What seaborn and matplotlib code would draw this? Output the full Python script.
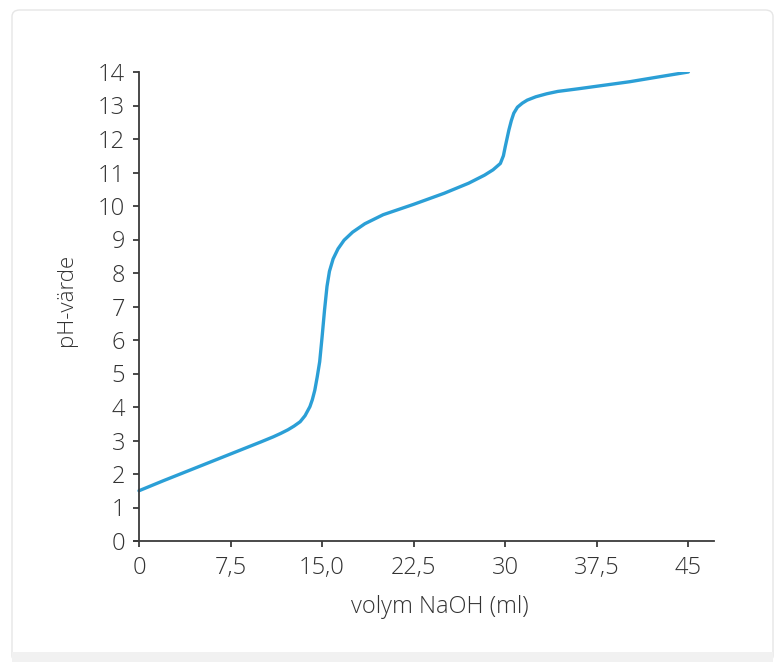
import matplotlib
matplotlib.use("Agg")
import matplotlib.pyplot as plt
import seaborn as sns
import pandas as pd
from matplotlib.patches import FancyBboxPatch

# titration curve
volume_ml = [0, 2, 4, 6, 8, 10, 11, 11.6, 12.2, 12.7, 13.2, 13.6, 14.0, 14.2, 14.4,
             14.6, 14.8, 15.0, 15.2, 15.4, 15.6, 15.9, 16.3, 16.8, 17.5, 18.5, 20,
             22.5, 25, 27, 28.3, 29.0, 29.6, 29.85, 30.0, 30.15, 30.3, 30.5, 30.7,
             31.0, 31.4, 31.8, 32.5, 33.4, 34.3, 36, 38, 40.2, 42.5, 45]
ph_value = [1.5, 1.8, 2.09, 2.38, 2.67, 2.96, 3.11, 3.21, 3.32, 3.43, 3.56, 3.74,
            4.01, 4.22, 4.5, 4.9, 5.35, 6.1, 6.9, 7.6, 8.05, 8.42, 8.72, 8.98, 9.22,
            9.47, 9.74, 10.05, 10.38, 10.68, 10.92, 11.08, 11.27, 11.5, 11.77, 12.02,
            12.27, 12.55, 12.77, 12.95, 13.07, 13.16, 13.26, 13.35, 13.42, 13.5,
            13.6, 13.71, 13.85, 14.0]

x_ticks = [0, 7.5, 15, 22.5, 30, 37.5, 45]
x_tick_labels = ["0", "7,5", "15,0", "22,5", "30", "37,5", "45"]
y_ticks = list(range(0, 15))

sns.set_theme(style="ticks")
plt.rcParams["font.family"] = ["Open Sans", "DejaVu Sans"]

text_color = "#333333"
line_color = "#2b9fd6"

fig = plt.figure(figsize=(7.8, 6.62), dpi=100, facecolor="white")

# card background with grey strip at the bottom
card = FancyBboxPatch((12 / 780, 0), 761 / 780, 652 / 662,
                      boxstyle="round,pad=0,rounding_size=0.01",
                      transform=fig.transFigure, facecolor="white",
                      edgecolor="#e6e6e6", linewidth=1.0, zorder=-5)
fig.patches.append(card)
strip = FancyBboxPatch((12 / 780, 0), 761 / 780, 10 / 662,
                       boxstyle="square,pad=0", transform=fig.transFigure,
                       facecolor="#f1f1f1", edgecolor="none", zorder=-4)
fig.patches.append(strip)

ax = fig.add_axes([133.5 / 780, (662 - 541) / 662, (714 - 133.5) / 780, 469 / 662])
ax.set_facecolor("none")

df = pd.DataFrame({"volym": volume_ml, "ph": ph_value})
sns.lineplot(data=df, x="volym", y="ph", ax=ax, color=line_color, linewidth=2.4,
             sort=False, estimator=None, solid_joinstyle="round",
             solid_capstyle="round")

ax.set_xlim(-0.45, 47.1)
ax.set_ylim(0, 14)
ax.spines["left"].set_position(("data", 0))
ax.spines["top"].set_visible(False)
ax.spines["right"].set_visible(False)
for side in ("left", "bottom"):
    ax.spines[side].set_color("#3a3a3a")
    ax.spines[side].set_linewidth(1.3)

ax.set_xticks(x_ticks)
ax.set_xticklabels(x_tick_labels)
ax.set_yticks(y_ticks)
ax.tick_params(axis="both", direction="out", length=4, width=1.3, color="#3a3a3a",
               labelsize=17, labelcolor=text_color)
ax.tick_params(axis="x", pad=7)
ax.tick_params(axis="y", pad=6)
for lbl in ax.get_xticklabels() + ax.get_yticklabels():
    lbl.set_fontweight("light")

ax.set_xlabel("volym NaOH (ml)", fontsize=17, color=text_color, fontweight="light")
ax.xaxis.set_label_coords(0.528, -0.115)
ax.set_ylabel("pH-värde", fontsize=16, color=text_color, fontweight="light")
ax.yaxis.set_label_coords(-0.097, 0.514)

fig.savefig("out.png", dpi=100, facecolor=fig.get_facecolor())
